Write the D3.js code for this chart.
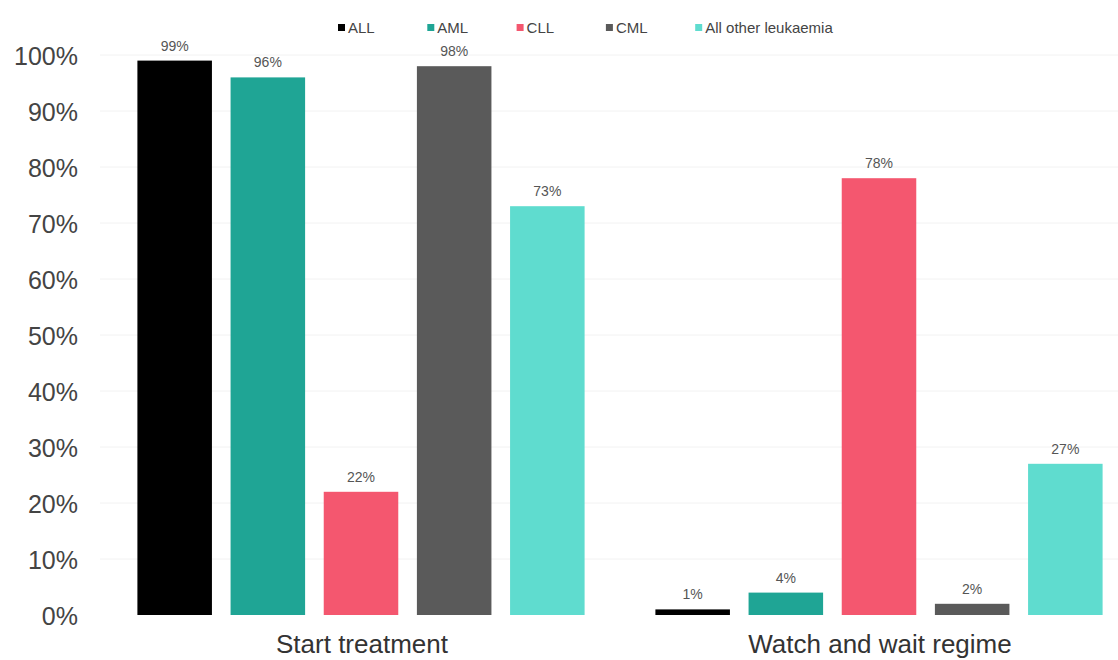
<!DOCTYPE html>
<html>
<head>
<meta charset="utf-8">
<script src="https://cdn.jsdelivr.net/npm/d3@7"></script>
<style>
  body { margin: 0; background: #fff; }
  text { font-family: "Liberation Sans", Arial, sans-serif; }
</style>
</head>
<body>
<script>
'use strict';

var width = 1118;
var height = 660;

// data
var groups = ['Start treatment', 'Watch and wait regime'];
var series = ['ALL', 'AML', 'CLL', 'CML', 'All other leukaemia'];
var startTreatment = [99, 96, 22, 98, 73];
var watchAndWait = [1, 4, 78, 2, 27];
var yTicks = [0, 10, 20, 30, 40, 50, 60, 70, 80, 90, 100];
var colors = ['#000000', '#1fa595', '#f4576f', '#5a5a5a', '#5fdccf'];

var values = [startTreatment, watchAndWait];

var svg = d3.select('body').append('svg').attr('width', width).attr('height', height);

var y = d3.scaleLinear().domain([0, 100]).range([615, 55]);
var x0 = d3.scaleBand().domain(groups).range([102, 1138]);
var x1 = d3.scaleBand().domain(series).range([0, x0.bandwidth()]).paddingInner(0.2).paddingOuter(0.38);
var color = d3.scaleOrdinal().domain(series).range(colors);

// grid
svg.append('g').selectAll('line').data(yTicks.slice(1)).enter().append('line')
  .attr('x1', 100).attr('x2', width)
  .attr('y1', function (d) { return y(d); })
  .attr('y2', function (d) { return y(d); })
  .attr('stroke', '#f2f2f2').attr('stroke-width', 1);

// y axis labels
var yAxis = d3.axisLeft(y).tickValues(yTicks).tickSize(0).tickPadding(0)
  .tickFormat(function (d) { return d + '%'; });
var ya = svg.append('g').attr('transform', 'translate(78,1)').call(yAxis);
ya.select('.domain').remove();
ya.selectAll('text').attr('font-size', 25).attr('fill', '#444').attr('font-family', '"Liberation Sans", Arial, sans-serif');

// bars
var g = svg.selectAll('.group').data(groups).enter().append('g')
  .attr('class', 'group')
  .attr('transform', function (d) { return 'translate(' + x0(d) + ',0)'; });

g.selectAll('rect').data(function (d, i) {
  return series.map(function (s, j) { return { key: s, value: values[i][j] }; });
}).enter().append('rect')
  .attr('x', function (d) { return x1(d.key); })
  .attr('width', x1.bandwidth())
  .attr('y', function (d) { return y(d.value); })
  .attr('height', function (d) { return y(0) - y(d.value); })
  .attr('fill', function (d) { return color(d.key); });

g.selectAll('.val').data(function (d, i) {
  return series.map(function (s, j) { return { key: s, value: values[i][j] }; });
}).enter().append('text')
  .attr('class', 'val')
  .attr('x', function (d) { return x1(d.key) + x1.bandwidth() / 2; })
  .attr('y', function (d) { return y(d.value) - 10; })
  .attr('text-anchor', 'middle')
  .attr('font-size', 14)
  .attr('fill', '#555')
  .text(function (d) { return d.value + '%'; });

// group labels
svg.selectAll('.glabel').data(groups).enter().append('text')
  .attr('class', 'glabel')
  .attr('x', function (d) { return x0(d) + x0.bandwidth() / 2 + 1; })
  .attr('y', 653)
  .attr('text-anchor', 'middle')
  .attr('font-size', 26)
  .attr('fill', '#333')
  .text(function (d) { return d; });

// legend
var legend = svg.selectAll('.legend').data(series).enter().append('g')
  .attr('class', 'legend')
  .attr('transform', function (d, i) { return 'translate(' + (338 + i * 89.3) + ',30)'; });
legend.append('rect').attr('x', 0).attr('y', -6).attr('width', 7).attr('height', 7)
  .attr('fill', function (d) { return color(d); });
legend.append('text').attr('x', 10).attr('y', 3).attr('font-size', 15).attr('fill', '#444')
  .text(function (d) { return d; });
</script>
</body>
</html>
